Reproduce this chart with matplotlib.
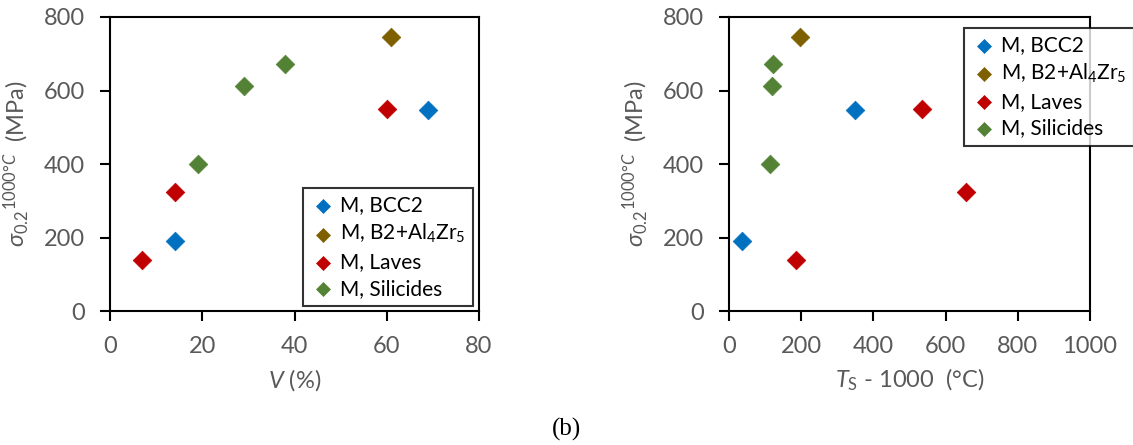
import matplotlib
matplotlib.use("Agg")
import matplotlib.pyplot as plt

plt.rcParams['font.family'] = ['Lato', 'DejaVu Sans']
plt.rcParams['mathtext.fontset'] = 'custom'
plt.rcParams['mathtext.rm'] = 'Lato'
plt.rcParams['mathtext.it'] = 'Lato:italic'
plt.rcParams['mathtext.bf'] = 'Lato:bold'

# series data (left: volume fraction, right: Ts - 1000)
labels = ['M, BCC2', 'M, B2+Al$_4$Zr$_5$', 'M, Laves', 'M, Silicides']
colors = ['#0070C0', '#7F6000', '#C00000', '#548235']

v_pct = [[14, 69], [61], [7, 14, 60], [19, 29, 38]]
ts_minus = [[36, 348], [197], [185, 658, 534], [114, 118, 121]]
sig_v = [[190, 547], [745], [140, 325, 550], [400, 613, 673]]
sig_ts = [[190, 547], [745], [140, 325, 550], [400, 613, 673]]

x_ticks_left = [0, 20, 40, 60, 80]
x_ticks_right = [0, 200, 400, 600, 800, 1000]
y_ticks = [0, 200, 400, 600, 800]

gray = '#595959'
fig = plt.figure(figsize=(11.33, 4.45), dpi=100)
ax1 = fig.add_axes([0.0971, 0.3011, 0.3257, 0.6607])
ax2 = fig.add_axes([0.6434, 0.3011, 0.3186, 0.6607])


def style(ax, xt, xlabel):
    ax.set_ylim(0, 800)
    ax.set_xlim(xt[0], xt[-1])
    ax.set_xticks(xt)
    ax.set_yticks(y_ticks)
    for s in ax.spines.values():
        s.set_linewidth(1.5)
        s.set_color('black')
    ax.tick_params(direction='out', length=7, width=1.5, colors='black',
                   labelcolor=gray, labelsize=17, pad=11)
    ax.set_xlabel(xlabel, color=gray, fontsize=17, labelpad=7)
    ax.set_ylabel(r'$\sigma_{0.2}{}^{1000°C}$  (MPa)', color=gray, fontsize=17, labelpad=9)


for xs, ys, lab, c in zip(v_pct, sig_v, labels, colors):
    ax1.scatter(xs, ys, marker='D', s=90, color=c, edgecolors=c, linewidths=0.5,
                label=lab, zorder=3, clip_on=False)
for xs, ys, lab, c in zip(ts_minus, sig_ts, labels, colors):
    ax2.scatter(xs, ys, marker='D', s=90, color=c, edgecolors=c, linewidths=0.5,
                label=lab, zorder=3, clip_on=False)

style(ax1, x_ticks_left, r'$V$ (%)')
style(ax2, x_ticks_right, r'$T_\mathrm{S}$ - 1000  (°C)')

leg_kw = dict(fontsize=15, frameon=True, fancybox=False, edgecolor='black',
              handletextpad=0.25, borderpad=0.35, labelspacing=0.32,
              handlelength=1.2, markerscale=0.75, borderaxespad=0)
l1 = ax1.legend(loc='lower right', bbox_to_anchor=(0.984, 0.017), **leg_kw)
l2 = ax2.legend(loc='upper left', bbox_to_anchor=(0.651, 0.963), **leg_kw)
for lg in (l1, l2):
    lg.get_frame().set_linewidth(1.5)
    for t in lg.get_texts():
        t.set_color('black')

fig.text(0.5, 0.035, '(b)', ha='center', va='center', fontsize=18,
         family=['Liberation Serif', 'DejaVu Serif'])

fig.savefig('out.png', dpi=100)
